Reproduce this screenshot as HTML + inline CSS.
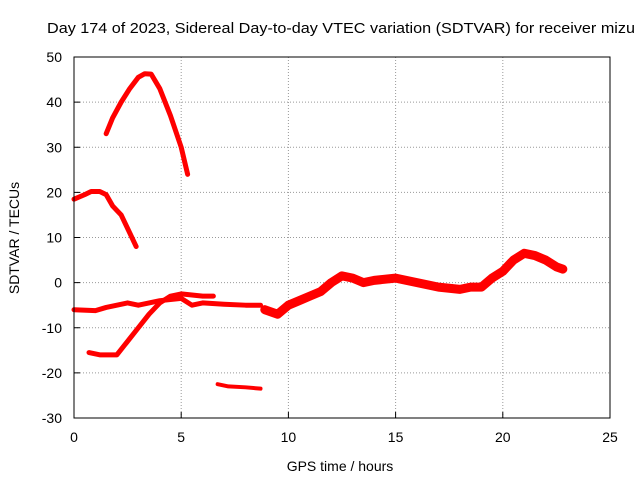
<!DOCTYPE html>
<html><head><meta charset="utf-8"><style>
body{margin:0;background:#fff;}
svg{display:block;font-family:"Liberation Sans",sans-serif;}
</style></head><body>
<svg id="chart" width="640" height="480" viewBox="0 0 640 480">
<rect x="0" y="0" width="640" height="480" fill="#fff"/>
<g id="grid"></g>
<g id="series"></g>
<rect x="74" y="57" width="536" height="361" fill="none" stroke="#000" stroke-width="1"/>
<g id="axes"></g>
<text x="47" y="33" font-size="15" textLength="588" lengthAdjust="spacingAndGlyphs">Day 174 of 2023, Sidereal Day-to-day VTEC variation (SDTVAR) for receiver mizu</text>
<text x="340" y="471" font-size="14" text-anchor="middle">GPS time / hours</text>
<text x="19" y="238" font-size="14" text-anchor="middle" transform="rotate(-90 19 238)">SDTVAR / TECUs</text>
</svg>
<script>
const xTicks=[0,5,10,15,20,25];
const yTicks=[-30,-20,-10,0,10,20,30,40,50];
const segArc=[[1.5,33],[1.8,36.5],[2.2,40],[2.6,43],[3.0,45.5],[3.3,46.3],[3.6,46.2],[4.0,43],[4.5,37],[5.0,30],[5.3,24]];
const segEarly=[[0,18.5],[0.5,19.5],[0.8,20.2],[1.2,20.2],[1.5,19.5],[1.8,17],[2.2,15],[2.6,11],[2.9,8]];
const segRise=[[0.7,-15.5],[1.2,-16],[2.0,-16],[2.5,-13],[3.0,-10],[3.5,-7],[4.0,-4.5],[4.5,-3],[5.0,-2.5],[6.0,-3],[6.5,-3]];
const segFlat=[[0,-6],[1,-6.2],[1.5,-5.5],[2,-5],[2.5,-4.5],[3,-5],[4,-4],[5,-3.5],[5.5,-5],[6,-4.5],[7,-4.8],[8,-5],[8.7,-5]];
const segLow=[[6.7,-22.5],[7.2,-23],[8,-23.2],[8.7,-23.5]];
const segMain=[[8.9,-6],[9.5,-7],[10,-5],[10.5,-4],[11,-3],[11.5,-2],[12,0],[12.5,1.5],[13,1],[13.5,0],[14,0.5],[15,1],[16,0],[17,-1],[18,-1.5],[18.5,-1],[19,-1],[19.5,1],[20,2.5],[20.5,5],[21,6.5],[21.5,6],[22,5],[22.5,3.5],[22.8,3]];
const segments=[segArc,segEarly,segRise,segFlat,segLow,segMain];
const widths=[5,5,5,5,4,9];
const NS="http://www.w3.org/2000/svg";
const X=v=>74+(v-0)/25*536;
const Y=v=>418-(v+30)/80*361;
const grid=document.getElementById('grid'),axes=document.getElementById('axes'),ser=document.getElementById('series');
function mk(t,a,p){const e=document.createElementNS(NS,t);for(const k in a)e.setAttribute(k,a[k]);p.appendChild(e);return e;}
xTicks.forEach(t=>{
 const x=X(t);
 if(t>0&&t<25){const g=mk('line',{x1:x,x2:x,y1:57,y2:418,stroke:'#999','stroke-dasharray':'1,2'},grid);
 
 }
 const tk=mk('line',{x1:x,x2:x,y1:418,y2:412,stroke:'#000'},axes);
 
 
 const tx=mk('text',{x:x,y:442,'font-size':14,'text-anchor':'middle'},axes);tx.textContent=t;
 
 
});
yTicks.forEach(t=>{
 const y=Y(t);
 if(t>-30&&t<50){const g=mk('line',{x1:74,x2:610,y1:y,y2:y,stroke:'#999','stroke-dasharray':'1,2'},grid);
 
 }
 const tk=mk('line',{x1:74,x2:80,y1:y,y2:y,stroke:'#000'},axes);
 
 
 const tx=mk('text',{x:62,y:y+5,'font-size':14,'text-anchor':'end'},axes);tx.textContent=t;
 
 
});
segments.forEach((s,i)=>{
 const pl=mk('polyline',{points:s.map(p=>X(p[0])+','+Y(p[1])).join(' '),fill:'none',stroke:'#f00','stroke-width':widths[i],'stroke-linejoin':'round','stroke-linecap':'round'},ser);
 
 
});
</script>
</body></html>
